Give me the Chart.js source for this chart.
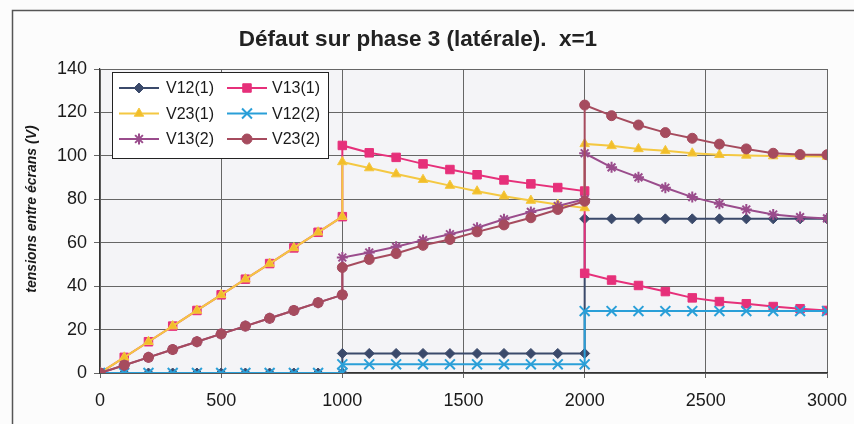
<!DOCTYPE html>
<html><head><meta charset="utf-8">
<script src="https://cdn.jsdelivr.net/npm/chart.js@4/dist/chart.umd.min.js"></script>
<style>html,body{margin:0;padding:0;background:#fcfcfc;} #wrap{width:854px;height:424px;position:relative}</style>
</head><body><div id="wrap"><canvas id="c" width="854" height="424"></canvas></div>
<script>
const chartTitle = 'Défaut sur phase 3 (latérale).  x=1';
const yTitle = 'tensions entre écrans (V)';
const seriesNames = ['V12(1)','V13(1)','V23(1)','V12(2)','V13(2)','V23(2)'];
const xValues = [0,100,200,300,400,500,600,700,800,900,1000,
  1000,1111,1222,1333,1444,1556,1667,1778,1889,2000,
  2000,2111,2222,2333,2444,2556,2667,2778,2889,3000];
const v12_1 = [0,0,0,0,0,0,0,0,0,0,0,
  9,9,9,9,9,9,9,9,9,9,
  71,71,71,71,71,71,71,71,71,71];
const v13_1 = [0,7.2,14.4,21.6,28.8,36,43.2,50.4,57.6,64.8,72,
  104.8,101.4,99.3,96.3,93.7,91.3,88.9,87.1,85.4,83.8,
  45.9,42.8,40.3,37.5,34.6,32.9,31.9,30.6,29.6,28.8];
const v23_1 = [0,7.2,14.4,21.6,28.8,36,43.2,50.4,57.6,64.8,72,
  97.2,94.4,91.6,89.0,86.3,83.7,81.4,79.4,77.6,76,
  105.5,104.6,103.2,102.3,101.2,100.5,100.2,99.9,99.8,99.7];
const v12_2 = [0,0,0,0,0,0,0,0,0,0,0,
  4,4,4,4,4,4,4,4,4,4,
  28.5,28.5,28.5,28.5,28.5,28.5,28.5,28.5,28.5,28.5];
const v13_2 = [0,3.6,7.2,10.8,14.4,18,21.6,25.2,28.8,32.4,36,
  53.2,55.5,58.1,61.2,63.9,66.9,70.8,74.2,76.9,80,
  101.2,94.7,90.1,85.3,81.0,77.9,75.3,73.0,71.8,71.2];
const v23_2 = [0,3.6,7.2,10.8,14.4,18,21.6,25.2,28.8,32.4,36,
  48.6,52.3,55.0,58.8,61.5,65.0,68.2,71.5,75.3,79.1,
  123.4,118.5,114.2,110.7,108.1,105.4,103.2,101.2,100.6,100.5];
const xTicks = [0,500,1000,1500,2000,2500,3000];
const yTicks = [0,20,40,60,80,100,120,140];

const seriesValues = [v12_1, v13_1, v23_1, v12_2, v13_2, v23_2];
const styles = [
  {color:'#3B4A6B', fill:'#3B4A6B', point:'rectRot', r:5},
  {color:'#E6307A', fill:'#E6307A', point:'rect', r:6},
  {color:'#F4C842', fill:'#F2BE2A', point:'triangle', r:5.5},
  {color:'#2A9FD8', fill:'#2A9FD8', point:'crossRot', r:7},
  {color:'#9A4C8C', fill:'#9A4C8C', point:'star', r:5.5},
  {color:'#A64B5E', fill:'#A64B5E', point:'circle', r:5}
];

const datasets = seriesNames.map((name, i) => ({
  label: name,
  data: xValues.map((x, k) => ({x: x, y: seriesValues[i][k]})),
  borderColor: styles[i].color,
  backgroundColor: styles[i].fill,
  pointBackgroundColor: styles[i].fill,
  pointBorderColor: styles[i].color,
  pointStyle: styles[i].point,
  pointRadius: styles[i].r,
  pointBorderWidth: (styles[i].point === 'crossRot' || styles[i].point === 'star') ? 2 : 1,
  borderWidth: 2,
  tension: 0,
  fill: false,
  order: seriesNames.length - i
}));

const decor = {
  id: 'decor',
  beforeDraw(chart) {
    const ctx = chart.ctx, a = chart.chartArea;
    ctx.save();
    ctx.fillStyle = '#F4F4F7';
    ctx.fillRect(a.left, a.top, a.right - a.left, a.bottom - a.top);
    ctx.strokeStyle = '#555';
    ctx.lineWidth = 1.5;
    ctx.strokeRect(12.5, 10.5, 900, 500);
    ctx.translate(32, 209);
    ctx.rotate(-Math.PI / 2);
    ctx.fillStyle = '#1a1a1a';
    ctx.font = 'italic bold 14px "Liberation Sans", Arial, sans-serif';
    ctx.textAlign = 'center';
    ctx.textBaseline = 'middle';
    ctx.fillText(yTitle, 0, 0);
    ctx.restore();
  },
  afterDatasetsDraw(chart) {
    const ctx = chart.ctx;
    ctx.save();
    ctx.fillStyle = '#ffffff';
    ctx.fillRect(112.5, 72.5, 216, 86);
    ctx.strokeStyle = '#222';
    ctx.lineWidth = 1;
    ctx.strokeRect(112.5, 72.5, 216, 86);
    const rows = [88, 113.5, 139];
    const cols = [{l:119, r:159, m:139, t:166}, {l:227, r:267, m:247, t:272}];
    seriesNames.forEach((name, i) => {
      const row = Math.floor(i / 2), col = cols[i % 2], y = rows[row];
      const s = styles[i];
      ctx.strokeStyle = s.color; ctx.lineWidth = 2;
      ctx.beginPath(); ctx.moveTo(col.l, y); ctx.lineTo(col.r, y); ctx.stroke();
      ctx.fillStyle = s.fill; ctx.strokeStyle = s.color;
      ctx.lineWidth = (s.point === 'crossRot' || s.point === 'star') ? 2 : 1;
      Chart.helpers.drawPoint(ctx, {pointStyle: s.point, radius: s.r, rotation: 0, borderWidth: ctx.lineWidth}, col.m, y);
      ctx.fillStyle = '#1a1a1a';
      ctx.font = '16px "Liberation Sans", Arial, sans-serif';
      ctx.textAlign = 'left'; ctx.textBaseline = 'middle';
      ctx.fillText(name, col.t, y + 1);
    });
    ctx.restore();
  }
};

new Chart(document.getElementById('c'), {
  type: 'line',
  data: { datasets },
  options: {
    responsive: false,
    animation: false,
    devicePixelRatio: 1,
    layout: { padding: { left: 9, right: 27, top: 0, bottom: 0 } },
    plugins: {
      legend: { display: false },
      tooltip: { enabled: false },
      title: {
        display: true, text: chartTitle, color: '#222',
        font: { family: '"Liberation Sans", Arial, sans-serif', size: 22.5, weight: 'bold' },
        padding: { top: 26, bottom: 16 }
      }
    },
    scales: {
      x: {
        type: 'linear', min: 0, max: 3000,
        afterBuildTicks: s => { s.ticks = xTicks.map(v => ({value: v})); },
        afterFit: s => { s.height = 51; s.paddingLeft = 0; s.paddingRight = 0; },
        ticks: { color: '#1a1a1a', padding: 12, maxRotation: 0,
          callback: v => String(v),
          font: { family: '"Liberation Sans", Arial, sans-serif', size: 18 } },
        grid: { color: '#666', lineWidth: 1, tickLength: 5, drawTicks: true },
        border: { color: '#333', width: 1.2 }
      },
      y: {
        type: 'linear', min: 0, max: 140,
        afterBuildTicks: s => { s.ticks = yTicks.map(v => ({value: v})); },
        afterFit: s => { s.width = 91; s.paddingTop = 0; s.paddingBottom = 0; },
        ticks: { color: '#1a1a1a', padding: 7,
          callback: v => String(v),
          font: { family: '"Liberation Sans", Arial, sans-serif', size: 18 } },
        grid: { color: '#666', lineWidth: 1, tickLength: 6, drawTicks: true },
        border: { color: '#333', width: 1.2 }
      }
    }
  },
  plugins: [decor]
});
</script>
</body></html>
